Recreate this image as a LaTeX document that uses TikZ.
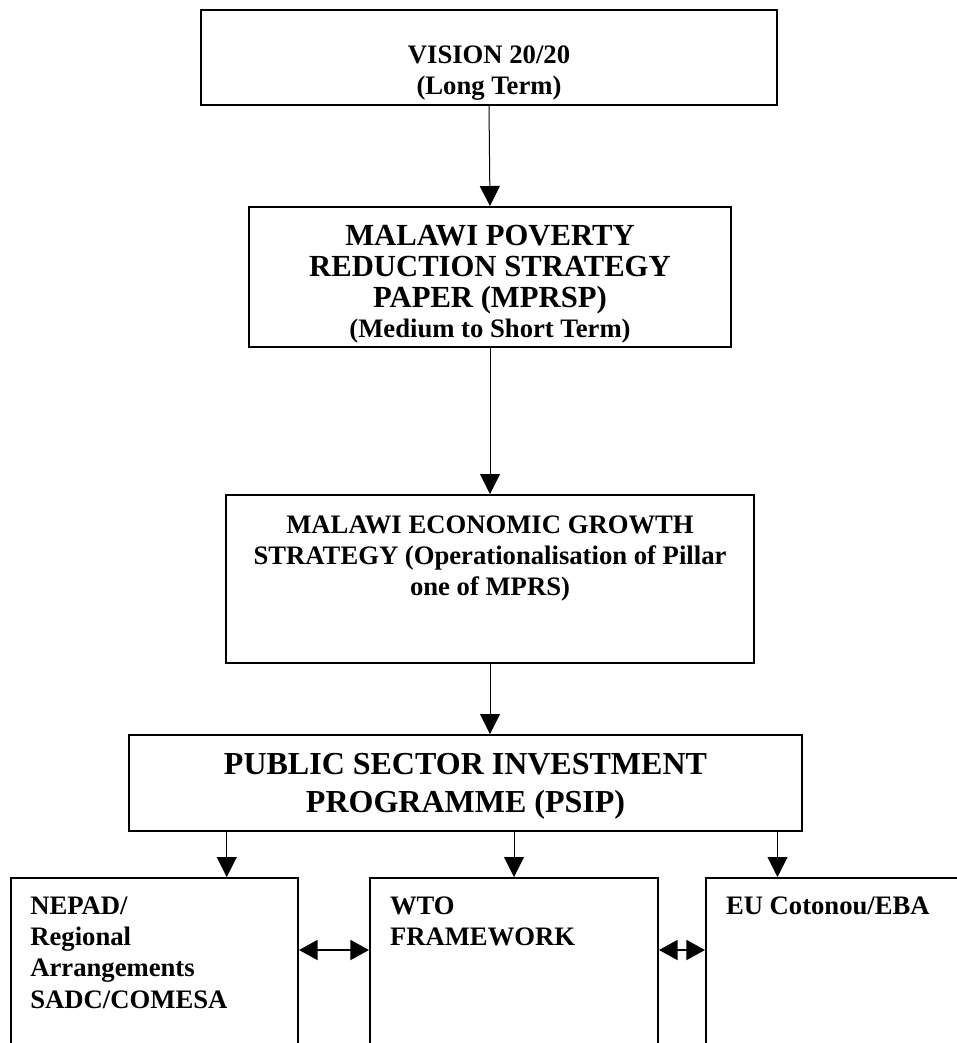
\documentclass[tikz,border=0pt]{standalone}
\usepackage{fontspec}
\setmainfont{Liberation Serif}
\usetikzlibrary{arrows.meta,calc}

% text of a box: height, width, alignment+font, first baseline, lines
\newcommand{\boxtext}[5]{\parbox[c][#1][t]{#2}{#3\rule{0pt}{#4}#5}}
\newcommand{\normalsz}{\fontsize{20}{23.5}\selectfont\bfseries}
\newcommand{\bigsz}{\fontsize{24}{29}\selectfont\bfseries}
\newcommand{\midsz}{\fontsize{23}{23.25}\selectfont\bfseries}

\begin{document}
\begin{tikzpicture}[
        x=0.75pt, y=-0.75pt,
        stage/.style={draw, line width=1.5pt, inner sep=0pt, anchor=north west},
        flow/.style={-{Triangle[width=15pt,length=15pt]}, line width=0.75pt},
        both/.style={{Triangle[width=15pt,length=14pt]}-{Triangle[width=15pt,length=14pt]}, line width=1.5pt}
    ]
    \useasboundingbox (0,0) rectangle (957,1043);
    \clip (0,0) rectangle (957,1043);

%%
% Planning chain, long term down to investment
    \node (vision) [stage] at (200,9)
        {\boxtext{71.25pt}{432pt}{\centering\normalsz}{39.75pt}{VISION 20/20\\(Long Term)}};
    \node (mprsp) [stage] at (248,206)
        {\boxtext{105pt}{361.5pt}{\centering\midsz}{28.5pt}{MALAWI POVERTY\\REDUCTION STRATEGY\\PAPER (MPRSP)\\[-1pt]\normalsz (Medium to Short Term)}};
    \node (megs) [stage] at (225,494)
        {\boxtext{126pt}{396pt}{\centering\normalsz}{28.5pt}{MALAWI ECONOMIC GROWTH\\STRATEGY (Operationalisation of Pillar\\one of MPRS)}};
    \node (psip) [stage] at (128,734)
        {\boxtext{72pt}{504.75pt}{\centering\bigsz}{29.25pt}{PUBLIC SECTOR INVESTMENT\\PROGRAMME (PSIP)}};
    \path[flow]
        (vision.south) edge (mprsp.north)
        (mprsp.south) edge (megs.north)
        (megs.south) edge (megs.south |- psip.north);

%%
% Frameworks fed by the PSIP
    \node (nepad) [stage] at (10,877)
        {\boxtext{150pt}{215.25pt}{\raggedright\leftskip=14.5pt\normalsz}{27pt}{NEPAD/\\Regional\\Arrangements\\SADC/COMESA}};
    \node (wto) [stage] at (369,877)
        {\boxtext{150pt}{216pt}{\raggedright\leftskip=15pt\normalsz}{27pt}{WTO\\FRAMEWORK}};
    \node (eu) [stage] at (705,877)
        {\boxtext{150pt}{216pt}{\raggedright\leftskip=15pt\normalsz}{27pt}{EU Cotonou/EBA}};
    \coordinate (n1) at ($(nepad.north west)!.75!(nepad.north east)$);
    \coordinate (w1) at (wto.north);
    \coordinate (e1) at ($(eu.north west)!.25!(eu.north east)$);
    \draw[flow] (psip.south -| n1) -- (n1);
    \draw[flow] (psip.south -| w1) -- (w1);
    \draw[flow] (psip.south -| e1) -- (e1);
    \draw[both] ([yshift=-54.75pt]nepad.north east) -- ([yshift=-54.75pt]wto.north west);
    \draw[both] ([yshift=-54.75pt]wto.north east) -- ([yshift=-54.75pt]eu.north west);
\end{tikzpicture}
\end{document}
